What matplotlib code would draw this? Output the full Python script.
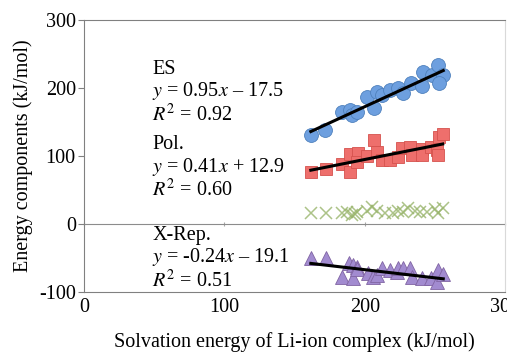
import numpy as np
import matplotlib
matplotlib.use("Agg")
import matplotlib.pyplot as plt

plt.rcParams['font.family'] = ['Liberation Serif', 'DejaVu Serif']
plt.rcParams['mathtext.fontset'] = 'stix'
plt.rcParams['axes.unicode_minus'] = False

# ES (electrostatic) component
es_x = [161.6, 172, 183.7, 189.6, 190.8, 194.8, 201.5, 206.7, 208.6, 212, 218,
        224, 227.6, 233, 240.7, 241.8, 247.8, 252, 256, 253]
es_y = [131, 138, 165, 168, 160, 165, 187, 170, 194.6, 190, 197,
        199.5, 192, 207, 203, 224, 219, 234, 219, 207]

# Pol. (polarization) component
pol_x = [161.6, 172.5, 183.7, 189.6, 189.6, 195.5, 194.8, 201.5, 206.7, 209, 212,
         218, 224, 226.4, 232.4, 233.6, 240.7, 240.7, 247, 251.4, 253, 255.6, 252.5]
pol_y = [76, 81, 89, 102.5, 77, 104, 91.6, 100, 123.5, 106, 94,
         94, 99, 112, 113.7, 101.5, 111, 101.5, 113.7, 109, 128, 133, 101.5]

# unlabeled component (green crosses)
ct_x = [161.6, 172.5, 183.7, 187.2, 190.8, 193.2, 194.8, 201.5, 205, 209, 214.4,
        220.4, 224, 227.6, 231.2, 235.9, 239.5, 244.2, 250.2, 252.5, 256]
ct_y = [15.7, 15.7, 15.7, 17.2, 13.2, 14.2, 17.2, 19.1, 25.5, 19.1, 15.7,
        15.7, 19.1, 17.2, 23, 19.1, 17.2, 17.2, 22, 15.7, 23]

# X-Rep. (exchange repulsion) component
xr_x = [161.6, 172.5, 183.7, 189, 191.5, 191.5, 194.8, 194.8, 202.7, 206.2, 209, 212,
        218, 222.8, 224, 227.6, 232.4, 233.6, 240.7, 247, 251.4, 252.5, 256]
xr_y = [-49.5, -50.5, -77.5, -58, -60, -79, -63, -66, -72.5, -77.5, -75, -65,
        -67.6, -70, -65, -65, -65, -77.5, -80, -80, -85, -67.6, -74]

# linear fits as given in the chart
fits = {'es': (0.95, -17.5), 'pol': (0.41, 12.9), 'xr': (-0.24, -19.1)}

fig = plt.figure(figsize=(5.07, 3.54), dpi=100)
ax = fig.add_axes([0.166, 0.175, 0.83, 0.7685])

ax.plot(es_x, es_y, 'o', ms=10, mfc='#6d9fdf', mec='#4f81bd', mew=0.6, zorder=3)
ax.plot(pol_x, pol_y, 's', ms=9, mfc='#ee6f6c', mec='#d5524e', mew=0.6, zorder=3)
ax.plot(ct_x, ct_y, 'x', ms=8, mew=1.1, color='#98b46a', alpha=0.8, zorder=3)
ax.plot(xr_x, xr_y, '^', ms=9.5, mfc='#a28bd0', mec='#8064a2', mew=0.6, zorder=3)

for key, xs in (('es', es_x), ('pol', pol_x), ('xr', xr_x)):
    m, b = fits[key]
    xx = np.array([min(xs), max(xs)])
    ax.plot(xx, m * xx + b, color='black', lw=2.2, zorder=4)

fs = 14.5
ax.text(48.5, 193, 'ES\n$y$ = 0.95$x$ – 17.5\n$R^2$ = 0.92', fontsize=fs,
        linespacing=1.1, va='center', ha='left', zorder=5)
ax.text(48.5, 82, 'Pol.\n$y$ = 0.41$x$ + 12.9\n$R^2$ = 0.60', fontsize=fs,
        linespacing=1.1, va='center', ha='left', zorder=5)
ax.text(48.5, -51.5, 'X-Rep.\n$y$ = -0.24$x$ – 19.1\n$R^2$ = 0.51', fontsize=fs,
        linespacing=1.1, va='center', ha='left', zorder=5)

ax.set_xlim(0, 300)
ax.set_ylim(-100, 300)
ax.set_xticks([0, 100, 200, 300])
ax.set_yticks([-100, 0, 100, 200, 300])
ax.tick_params(axis='both', labelsize=fs, color='#808080')
ax.tick_params(axis='x', length=0, pad=4)
ax.tick_params(axis='y', length=4, direction='out', pad=2)
for s in ('left', 'bottom', 'top'):
    ax.spines[s].set_color('#808080')
ax.spines['right'].set_color('#d9d9d9')

# horizontal axis crossing at y = 0
sec = ax.secondary_xaxis(0.25)
sec.set_xticks([0, 100, 200, 300])
sec.set_xticklabels([])
sec.tick_params(length=3, direction='inout', color='#a6a6a6')
sec.spines['bottom'].set_color('#8c8c8c')

ax.set_xlabel('Solvation energy of Li-ion complex (kJ/mol)', fontsize=fs, labelpad=11)
ax.set_ylabel('Energy components (kJ/mol)', fontsize=fs, labelpad=4)

fig.savefig('out.png', dpi=100)
